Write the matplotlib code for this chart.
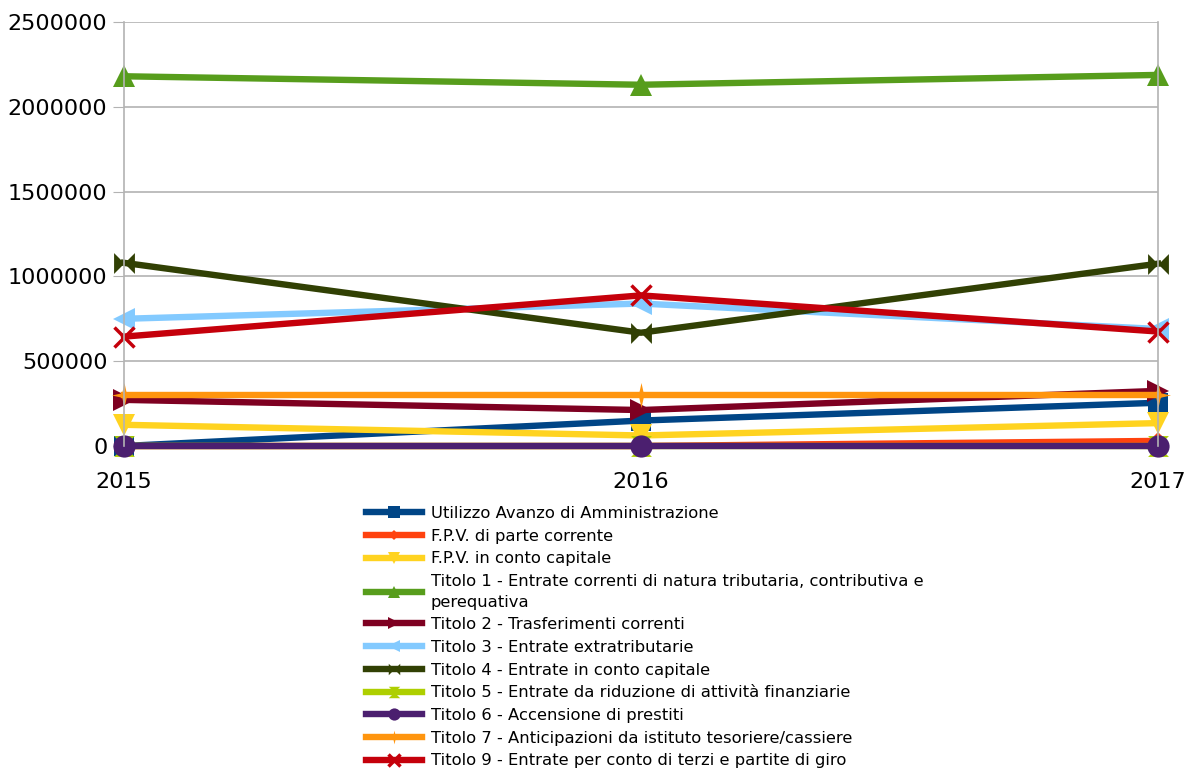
import matplotlib
matplotlib.use("Agg")
import matplotlib.pyplot as plt
from matplotlib.path import Path
import numpy as np

years = ["2015", "2016", "2017"]
labels = [
    "Utilizzo Avanzo di Amministrazione",
    "F.P.V. di parte corrente",
    "F.P.V. in conto capitale",
    "Titolo 1 - Entrate correnti di natura tributaria, contributiva e\nperequativa",
    "Titolo 2 - Trasferimenti correnti",
    "Titolo 3 - Entrate extratributarie",
    "Titolo 4 - Entrate in conto capitale",
    "Titolo 5 - Entrate da riduzione di attività finanziarie",
    "Titolo 6 - Accensione di prestiti",
    "Titolo 7 - Anticipazioni da istituto tesoriere/cassiere",
    "Titolo 9 - Entrate per conto di terzi e partite di giro",
]
utilizzo_avanzo = [0, 150000, 255000]
fpv_corrente = [0, 0, 30000]
fpv_capitale = [125000, 62000, 135000]
titolo1 = [2180000, 2130000, 2188000]
titolo2 = [272000, 212000, 325000]
titolo3 = [750000, 840000, 690000]
titolo4 = [1080000, 668000, 1075000]
titolo5 = [0, 0, 0]
titolo6 = [0, 0, 0]
titolo7 = [300000, 300000, 300000]
titolo9 = [645000, 888000, 675000]

series = [utilizzo_avanzo, fpv_corrente, fpv_capitale, titolo1, titolo2, titolo3,
          titolo4, titolo5, titolo6, titolo7, titolo9]
colors = ["#004586", "#ff420e", "#ffd320", "#579d1c", "#7e0021", "#83caff",
          "#314004", "#aecf00", "#4b1f6f", "#ff950e", "#c5000b"]

bowtie = Path([(-1, -1), (-1, 1), (0, 0), (1, 1), (1, -1), (0, 0), (-1, -1)],
              [Path.MOVETO] + [Path.LINETO] * 5 + [Path.CLOSEPOLY])
hourglass = Path([(-1, 1), (1, 1), (0, 0), (1, -1), (-1, -1), (0, 0), (-1, 1)],
                 [Path.MOVETO] + [Path.LINETO] * 5 + [Path.CLOSEPOLY])
star4 = Path([(0, 1), (0.18, 0.18), (1, 0), (0.18, -0.18), (0, -1), (-0.18, -0.18),
              (-1, 0), (-0.18, 0.18), (0, 1)],
             [Path.MOVETO] + [Path.LINETO] * 7 + [Path.CLOSEPOLY])
markers = ["s", "D", "v", "^", ">", "<", bowtie, hourglass, "o", star4, "x"]
msizes = [15, 9, 16, 16, 16, 16, 15, 15, 16, 18, 15]

plt.rcParams['font.family'] = ['DejaVu Sans']
fig = plt.figure(figsize=(11.84, 7.71), dpi=100)
ax = fig.add_axes([124 / 1184, 1 - 446 / 771, (1158 - 124) / 1184, (446 - 22) / 771])

x = np.arange(len(years))
for s, c, m, ms, lab in zip(series, colors, markers, msizes, labels):
    kw = dict(markeredgewidth=2.5) if m == "x" else dict(markeredgewidth=0)
    ax.plot(x, s, color=c, linewidth=4.6, marker=m, markersize=ms,
            markerfacecolor=c, markeredgecolor=c, label=lab, clip_on=False, **kw)

ax.set_xlim(0, 2)
ax.set_ylim(0, 2500000)
ax.set_yticks(np.arange(0, 2500001, 500000))
ax.set_yticklabels([str(v) for v in range(0, 2500001, 500000)], fontsize=16)
ax.set_xticks(x)
ax.set_xticklabels(years, fontsize=16)
ax.tick_params(axis='x', length=4, pad=15, color="#b3b3b3")
ax.tick_params(axis='y', length=8, pad=4, color="#b3b3b3")
ax.yaxis.grid(True, color="#b3b3b3", linewidth=1.2)
ax.set_axisbelow(True)
for sp in ["top", "bottom"]:
    ax.spines[sp].set_visible(False)
for sp in ["left", "right"]:
    ax.spines[sp].set_color("#b3b3b3")
    ax.spines[sp].set_linewidth(1.2)

handles, labs = ax.get_legend_handles_labels()
leg = fig.legend(handles, labs, loc="upper left", bbox_to_anchor=(366 / 1184, 1 - 506 / 771),
                 frameon=False, fontsize=11.8, handlelength=3.4, markerscale=0.55,
                 labelspacing=0.47, handletextpad=0.55, borderpad=0, borderaxespad=0)
for t in leg.get_texts():
    t.set_linespacing(1.45)

fig.savefig("out.png", dpi=100)
